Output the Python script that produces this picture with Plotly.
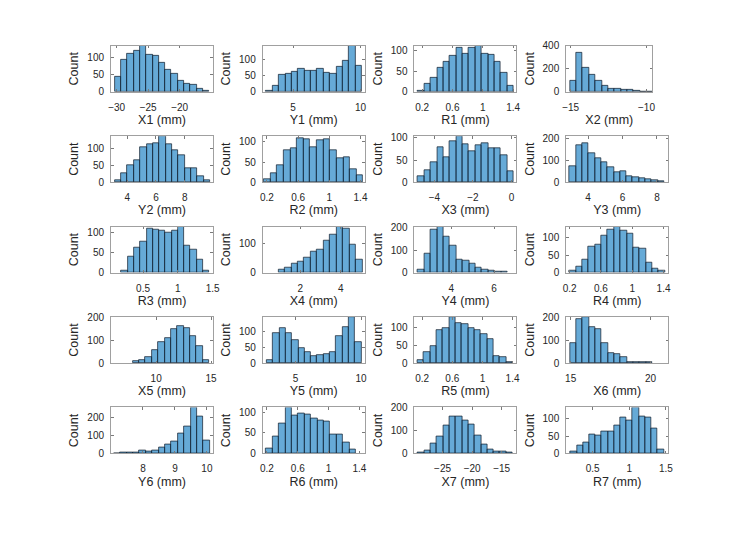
import plotly.graph_objects as go

# ---------------- data ----------------
labels = ["X1 (mm)", "Y1 (mm)", "R1 (mm)", "X2 (mm)",
          "Y2 (mm)", "R2 (mm)", "X3 (mm)", "Y3 (mm)",
          "R3 (mm)", "X4 (mm)", "Y4 (mm)", "R4 (mm)",
          "X5 (mm)", "Y5 (mm)", "R5 (mm)", "X6 (mm)",
          "Y6 (mm)", "R6 (mm)", "X7 (mm)", "R7 (mm)"]

# bin start and bin width for every histogram
bin_start = [-30.3, 3.0, 0.144, -15.05,
             3.13, 0.16, -4.85, 2.93,
             0.19, 0.91, 2.43, 0.2,
             7.87, 2.82, 0.14, 14.94,
             7.09, 0.19, -29.2, 0.2]
bin_width = [1.0, 0.473, 0.084, 0.42,
             0.443, 0.085, 0.33, 0.366,
             0.09, 0.32, 0.3, 0.081,
             0.58, 0.48, 0.084, 0.397,
             0.2, 0.083, 1.07, 0.0847]

X1 = [44, 93, 111, 120, 134, 107, 105, 83, 65, 51, 33, 24, 20, 8, 3]
Y1 = [4, 19, 52, 55, 61, 72, 64, 65, 72, 60, 55, 76, 97, 142, 80]
R1 = [2, 20, 33, 59, 73, 87, 106, 92, 106, 112, 92, 89, 73, 47, 14]
X2 = [98, 335, 210, 145, 97, 50, 22, 22, 18, 13, 5, 1, 3]
Y2 = [5, 26, 52, 66, 104, 114, 118, 138, 114, 95, 80, 41, 42, 19, 5]
R2 = [8, 22, 42, 80, 85, 110, 106, 87, 103, 106, 80, 60, 62, 32, 17]
X3 = [13, 27, 46, 79, 56, 93, 104, 86, 71, 84, 88, 76, 76, 61, 25]
Y3 = [75, 168, 178, 134, 110, 93, 68, 45, 48, 27, 22, 18, 14, 7, 3]
R3 = [5, 40, 62, 78, 108, 106, 104, 100, 105, 114, 66, 58, 32, 6]
X4 = [9, 18, 31, 37, 53, 72, 81, 112, 131, 159, 151, 98, 46]
Y4 = [14, 86, 190, 203, 161, 121, 57, 54, 40, 21, 11, 7, 6, 3]
R4 = [5, 18, 37, 74, 79, 105, 123, 132, 120, 111, 72, 68, 29, 12, 5]
X5 = [8, 15, 28, 56, 94, 111, 150, 162, 153, 118, 77, 13]
Y5 = [8, 95, 112, 98, 74, 48, 35, 21, 26, 30, 35, 88, 115, 148, 67]
R5 = [8, 30, 48, 93, 98, 128, 110, 109, 98, 93, 82, 68, 20, 17, 3]
X6 = [86, 190, 200, 156, 149, 86, 42, 37, 24, 3, 6, 5, 3]
Y6 = [2, 3, 5, 5, 14, 11, 18, 35, 49, 64, 111, 147, 253, 205, 71]
R6 = [13, 41, 74, 112, 92, 98, 96, 84, 80, 79, 45, 45, 27, 9]
X7 = [3, 15, 45, 75, 120, 163, 163, 145, 127, 77, 37, 18, 8, 7, 3]
R7 = [7, 24, 33, 56, 51, 63, 63, 80, 104, 96, 133, 107, 103, 71, 10]
counts = [X1, Y1, R1, X2, Y2, R2, X3, Y3, R3, X4,
          Y4, R4, X5, Y5, R5, X6, Y6, R6, X7, R7]

# axis limits and tick labels
x_ranges = [[-30.9, -14.7], [2.75, 10.31], [0.099, 1.443], [-15.29, -9.61],
            [2.87, 9.97], [0.147, 1.454], [-5.03, 0.255], [2.73, 8.65],
            [0.04, 1.504], [0.137, 5.185], [2.27, 7.05], [0.156, 1.459],
            [5.89, 15.18], [2.51, 10.28], [0.098, 1.452], [14.72, 21.11],
            [7.0, 10.19], [0.146, 1.468], [-29.75, -12.5], [0.14, 1.531]]
y_max = [134, 142, 112, 400, 138, 114, 104, 210, 114, 159,
         204, 132, 203, 148, 128, 200, 253, 112, 200, 133]
x_ticks = [[-30, -25, -20], [5, 10], [0.2, 0.6, 1, 1.4], [-15, -10],
           [4, 6, 8], [0.2, 0.6, 1, 1.4], [-4, -2, 0], [4, 6, 8],
           [0.5, 1, 1.5], [2, 4], [4, 6], [0.2, 0.6, 1, 1.4],
           [10, 15], [5, 10], [0.2, 0.6, 1, 1.4], [15, 20],
           [8, 9, 10], [0.2, 0.6, 1, 1.4], [-25, -20, -15], [0.5, 1, 1.5]]
y_ticks = [[0, 50, 100], [0, 50, 100], [0, 50, 100], [0, 200, 400],
           [0, 50, 100], [0, 50, 100], [0, 50, 100], [0, 100, 200],
           [0, 50, 100], [0, 100], [0, 100, 200], [0, 50, 100],
           [0, 100, 200], [0, 50, 100], [0, 50, 100], [0, 100, 200],
           [0, 100, 200], [0, 50, 100], [0, 100, 200], [0, 50, 100]]

# ---------------- layout geometry (pixels, page has an 8px body margin) ----
W, H = 747, 536
col_left = [100.5, 254.5, 408.5, 562.5]
col_w = 103.5
row_top = [32.5, 125.0, 217.5, 310.0, 402.5]
row_h = 47.0
FONT = "Liberation Sans, Arial, Helvetica, sans-serif"
TXT = "#262626"


def fmt(v):
    return ("%g" % v).replace("-", "\u2212")


fig = go.Figure()
layout = dict(
    width=W, height=H, margin=dict(l=0, r=0, t=0, b=0),
    paper_bgcolor="white", plot_bgcolor="white",
    showlegend=False, bargap=0,
    font=dict(family=FONT, color=TXT, size=10),
)

for i in range(20):
    r, c = divmod(i, 4)
    n = i + 1
    xa = "x" if n == 1 else "x%d" % n
    ya = "y" if n == 1 else "y%d" % n
    s, w = bin_start[i], bin_width[i]
    cnt = counts[i]
    centers = [s + w * (k + 0.5) for k in range(len(cnt))]
    fig.add_trace(go.Bar(
        x=centers, y=cnt, width=[w] * len(cnt), xaxis=xa, yaxis=ya,
        marker=dict(color="rgba(0,114,189,0.6)",
                    line=dict(color="rgba(20,30,45,0.9)", width=0.8)),
        hoverinfo="skip"))
    x0 = col_left[c]
    x1 = x0 + col_w
    if i == 3:
        x1 = 650.0
    y_top = row_top[r]
    y_bot = y_top + row_h
    axis_common = dict(
        showline=True, mirror="ticks", linecolor="#a0a0a0", linewidth=1,
        ticks="inside", ticklen=2.5, tickwidth=0.8, tickcolor="#7a7a7a",
        showgrid=False, zeroline=False,
        tickfont=dict(family=FONT, size=10, color=TXT),
    )
    layout["xaxis" if n == 1 else "xaxis%d" % n] = dict(
        axis_common, domain=[x0 / W, x1 / W], anchor=ya,
        range=x_ranges[i], tickvals=x_ticks[i],
        ticktext=[fmt(v) for v in x_ticks[i]],
        ticklabelstandoff=6,
        title=dict(text=labels[i], standoff=3,
                   font=dict(family=FONT, size=12.5, color=TXT)),
    )
    layout["yaxis" if n == 1 else "yaxis%d" % n] = dict(
        axis_common, domain=[1 - y_bot / H, 1 - y_top / H], anchor=xa,
        range=[0, y_max[i]], tickvals=y_ticks[i],
        ticktext=[fmt(v) for v in y_ticks[i]],
        ticklabelstandoff=4,
        title=dict(text="Count", standoff=5,
                   font=dict(family=FONT, size=12.5, color=TXT)),
    )

fig.update_layout(**layout)
fig.write_html("out.html")
